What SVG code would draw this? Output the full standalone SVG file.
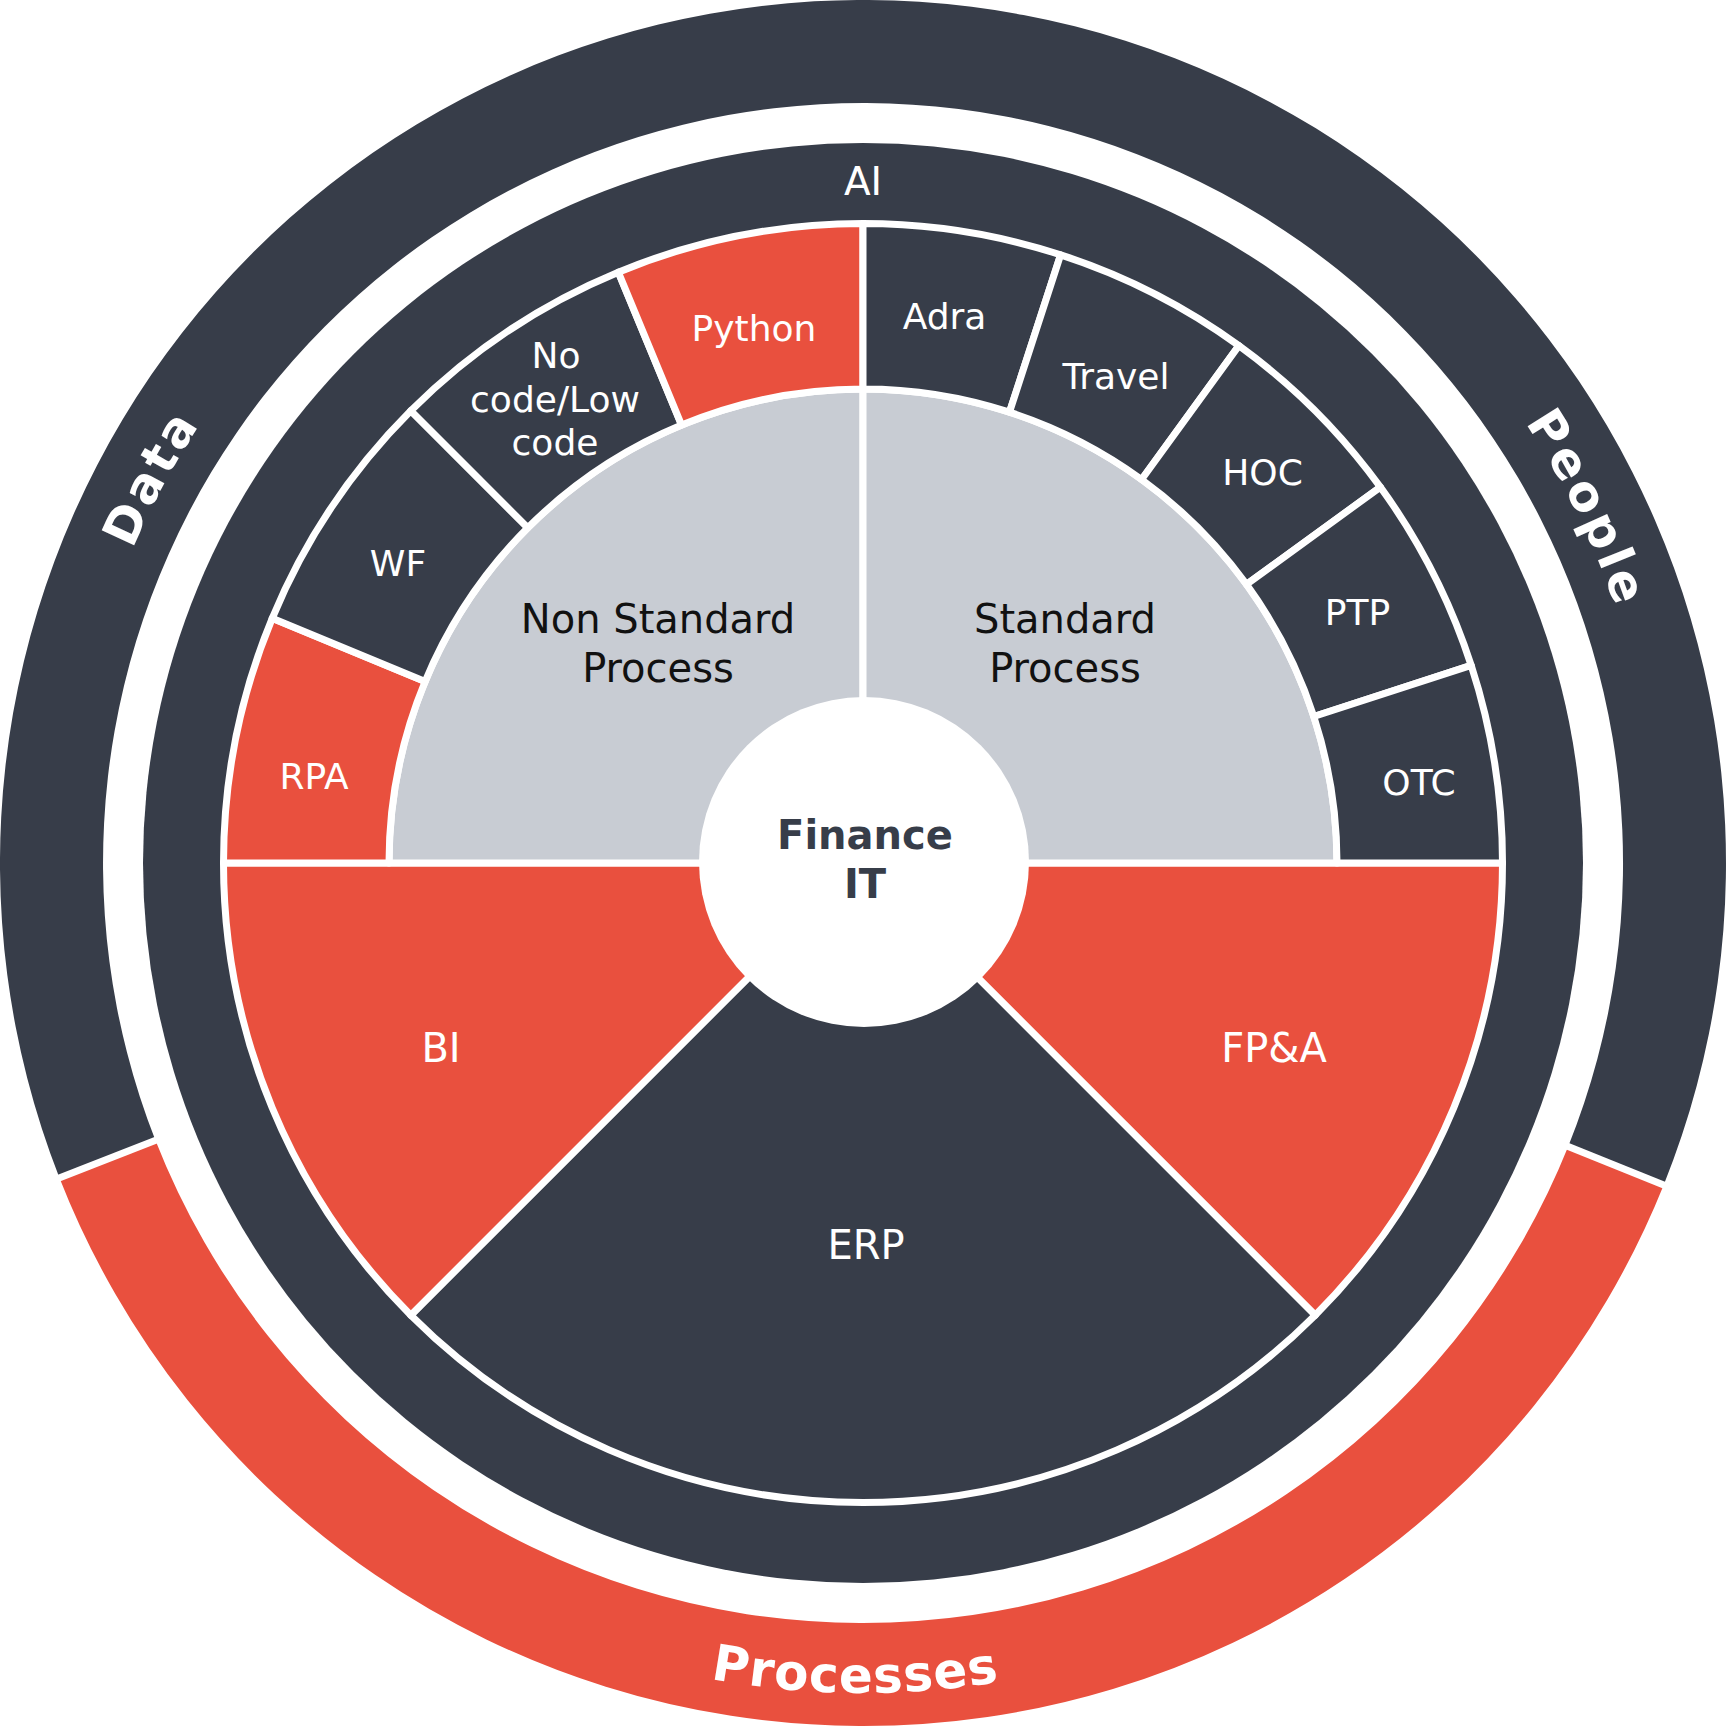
<svg xmlns="http://www.w3.org/2000/svg" width="1727" height="1729" viewBox="0 0 1727 1729">
<style>
.dark{fill:#373D49}
.red{fill:#E9503E}
.grey{fill:#C8CCD3}
.seg{stroke:#FFFFFF;stroke-width:7;stroke-linejoin:round}
.lbl{font-family:"DejaVu Sans","Verdana",sans-serif;font-size:36px;fill:#FFFFFF;text-anchor:middle}
.big{font-size:40px}
.inner{font-family:"DejaVu Sans","Verdana",sans-serif;font-size:40px;fill:#111111;text-anchor:middle}
.core{font-family:"DejaVu Sans","Verdana",sans-serif;font-size:40px;font-weight:bold;fill:#373D49;text-anchor:middle}
.ring{font-family:"DejaVu Sans","Verdana",sans-serif;font-weight:bold;font-size:49px;fill:#FFFFFF;letter-spacing:3.5px;text-anchor:middle}
.proc{font-family:"DejaVu Sans","Verdana",sans-serif;font-weight:bold;font-size:50px;fill:#FFFFFF;letter-spacing:1px;text-anchor:middle}
.gap{stroke:#FFFFFF;stroke-width:7}
</style>
<defs>
<path id="arcTop" d="M 68 863 A 795 795 0 0 1 1658 863"/>
<path id="arcBot" d="M 33 863 A 830 830 0 0 0 1693 863"/>
</defs>
<rect width="1727" height="1729" fill="#FFFFFF"/>

<g id="outer-ring">
  <g id="processes">
    <path class="red" d="M 1663.7 1184.9 A 863 863 0 0 1 59.5 1177.9 L 155.4 1140.3 A 760 760 0 0 0 1568.2 1146.5 Z"/>
    <text class="proc"><textPath href="#arcBot" startOffset="49.7%">Processes</textPath></text>
  </g>
  <g id="data-people">
    <path class="dark" d="M 59.5 1177.9 A 863 863 0 1 1 1663.7 1184.9 L 1568.2 1146.5 A 760 760 0 1 0 155.4 1140.3 Z"/>
    <text id="data" class="ring"><textPath href="#arcTop" startOffset="15.8%">Data</textPath></text>
    <text id="people" class="ring"><textPath href="#arcTop" startOffset="85.5%">People</textPath></text>
  </g>
</g>

<g id="dividers">
  <line class="gap" x1="1558.9" y1="1142.7" x2="1674.9" y2="1189.4"/>
  <line class="gap" x1="164.7" y1="1136.7" x2="48.3" y2="1182.3"/>
</g>

<g id="ai-ring">
  <circle class="dark" cx="863" cy="863" r="720"/>
  <text class="lbl" x="863" y="195" style="font-size:39px">AI</text>
</g>

<g id="bottom-segments">
  <g id="fpa">
    <path class="red seg" d="M 863 863 L 1502.5 863 A 639.5 639.5 0 0 1 1315.2 1315.2 Z"/>
    <text class="lbl big" x="1274" y="1062">FP&amp;A</text>
  </g>
  <g id="erp">
    <path class="dark seg" d="M 863 863 L 1315.2 1315.2 A 639.5 639.5 0 0 1 410.8 1315.2 Z"/>
    <text class="lbl big" x="866" y="1259">ERP</text>
  </g>
  <g id="bi">
    <path class="red seg" d="M 863 863 L 410.8 1315.2 A 639.5 639.5 0 0 1 223.5 863 Z"/>
    <text class="lbl big" x="441" y="1062">BI</text>
  </g>
</g>

<g id="grey-segments">
  <g id="non-standard">
    <path class="grey seg" d="M 863 863 L 389 863 A 474 474 0 0 1 863 389 Z"/>
    <text class="inner" x="658" y="633">Non Standard</text>
    <text class="inner" x="658" y="682">Process</text>
  </g>
  <g id="standard">
    <path class="grey seg" d="M 863 863 L 863 389 A 474 474 0 0 1 1337 863 Z"/>
    <text class="inner" x="1065" y="633">Standard</text>
    <text class="inner" x="1065" y="682">Process</text>
  </g>
</g>

<g id="top-segments">
  <g id="rpa">
    <path class="red seg" d="M 223.5 863 A 639.5 639.5 0 0 1 272.2 618.3 L 425.1 681.6 A 474 474 0 0 0 389 863 Z"/>
    <text class="lbl" x="314" y="789">RPA</text>
  </g>
  <g id="wf">
    <path class="dark seg" d="M 272.2 618.3 A 639.5 639.5 0 0 1 410.8 410.8 L 527.8 527.8 A 474 474 0 0 0 425.1 681.6 Z"/>
    <text class="lbl" x="398" y="576">WF</text>
  </g>
  <g id="nocode">
    <path class="dark seg" d="M 410.8 410.8 A 639.5 639.5 0 0 1 618.3 272.2 L 681.6 425.1 A 474 474 0 0 0 527.8 527.8 Z"/>
    <text class="lbl" x="556" y="368">No</text>
    <text class="lbl" x="555" y="412">code/Low</text>
    <text class="lbl" x="555" y="455">code</text>
  </g>
  <g id="python">
    <path class="red seg" d="M 618.3 272.2 A 639.5 639.5 0 0 1 863 223.5 L 863 389 A 474 474 0 0 0 681.6 425.1 Z"/>
    <text class="lbl" x="754" y="341">Python</text>
  </g>
  <g id="adra">
    <path class="dark seg" d="M 863 223.5 A 639.5 639.5 0 0 1 1060.6 254.8 L 1009.5 412.2 A 474 474 0 0 0 863 389 Z"/>
    <text class="lbl" x="944.5" y="329">Adra</text>
  </g>
  <g id="travel">
    <path class="dark seg" d="M 1060.6 254.8 A 639.5 639.5 0 0 1 1238.9 345.6 L 1141.6 479.5 A 474 474 0 0 0 1009.5 412.2 Z"/>
    <text class="lbl" x="1116" y="389">Travel</text>
  </g>
  <g id="hoc">
    <path class="dark seg" d="M 1238.9 345.6 A 639.5 639.5 0 0 1 1380.4 487.1 L 1246.5 584.4 A 474 474 0 0 0 1141.6 479.5 Z"/>
    <text class="lbl" x="1262.5" y="485">HOC</text>
  </g>
  <g id="ptp">
    <path class="dark seg" d="M 1380.4 487.1 A 639.5 639.5 0 0 1 1471.2 665.4 L 1313.8 716.5 A 474 474 0 0 0 1246.5 584.4 Z"/>
    <text class="lbl" x="1357.5" y="625">PTP</text>
  </g>
  <g id="otc">
    <path class="dark seg" d="M 1471.2 665.4 A 639.5 639.5 0 0 1 1502.5 863 L 1337 863 A 474 474 0 0 0 1313.8 716.5 Z"/>
    <text class="lbl" x="1419" y="795">OTC</text>
  </g>
</g>

<g id="finance-it">
  <circle cx="864" cy="862" r="165" fill="#FFFFFF"/>
  <text class="core" x="865" y="849">Finance</text>
  <text class="core" x="865" y="898">IT</text>
</g>
</svg>
